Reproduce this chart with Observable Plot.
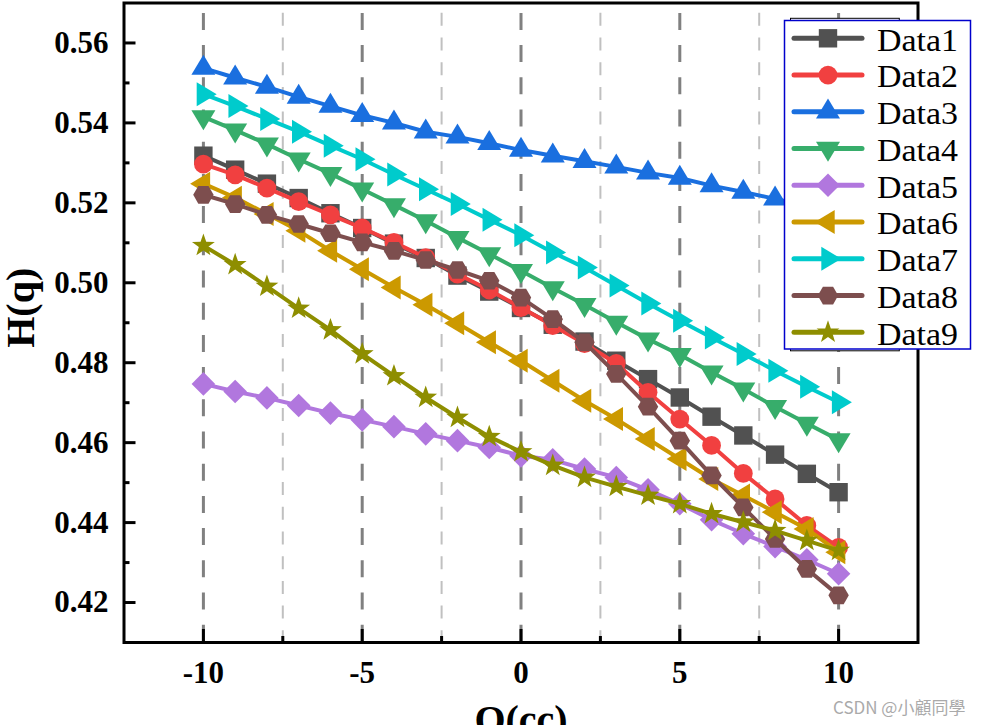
<!DOCTYPE html>
<html><head><meta charset="utf-8">
<script src="https://cdn.jsdelivr.net/npm/d3@7"></script>
<script src="https://cdn.jsdelivr.net/npm/@observablehq/plot@0.6"></script>
<style>
html,body{margin:0;padding:0;background:#fff;}
#wrap{position:relative;width:984px;height:725px;overflow:hidden;background:#fff;}
#wrap svg{display:block;}
#overlay{position:absolute;left:0;top:0;}
#wm{position:absolute;left:833px;top:694px;font-family:"Noto Sans CJK SC","Noto Sans",sans-serif;font-size:17px;color:#aaaaaa;white-space:nowrap;}
</style></head><body>
<div id="wrap"><div id="wm">CSDN @小顧同學</div></div>
<script>
const xValues = [-10,-9,-8,-7,-6,-5,-4,-3,-2,-1,0,1,2,3,4,5,6,7,8,9,10];
const seriesNames = ["Data1","Data2","Data3","Data4","Data5","Data6","Data7","Data8","Data9"];
const data1 = [0.5318,0.5283,0.5248,0.5212,0.5174,0.5137,0.5098,0.5062,0.5018,0.4978,0.4937,0.4895,0.4853,0.4805,0.4759,0.4713,0.4665,0.4618,0.4570,0.4522,0.4476];
const data2 = [0.5297,0.5270,0.5237,0.5203,0.5170,0.5137,0.5101,0.5063,0.5022,0.4982,0.4938,0.4893,0.4848,0.4798,0.4726,0.4659,0.4593,0.4523,0.4459,0.4393,0.4338];
const data3 = [0.5537,0.5513,0.5490,0.5465,0.5442,0.5419,0.5400,0.5378,0.5365,0.5349,0.5332,0.5318,0.5304,0.5290,0.5275,0.5262,0.5243,0.5227,0.5210,0.5193,0.5176];
const data4 = [0.5415,0.5382,0.5347,0.5309,0.5273,0.5234,0.5195,0.5155,0.5113,0.5072,0.5030,0.4987,0.4945,0.4901,0.4859,0.4820,0.4776,0.4734,0.4690,0.4648,0.4607];
const data5 = [0.4747,0.4728,0.4712,0.4693,0.4674,0.4657,0.4640,0.4622,0.4605,0.4588,0.4567,0.4557,0.4534,0.4513,0.4482,0.4447,0.4407,0.4372,0.4340,0.4307,0.4272];
const data6 = [0.5248,0.5213,0.5172,0.5130,0.5080,0.5034,0.4988,0.4945,0.4899,0.4851,0.4805,0.4755,0.4705,0.4659,0.4609,0.4559,0.4509,0.4468,0.4426,0.4384,0.4326];
const data7 = [0.5472,0.5442,0.5410,0.5378,0.5343,0.5309,0.5271,0.5234,0.5197,0.5158,0.5119,0.5076,0.5038,0.4993,0.4948,0.4905,0.4863,0.4822,0.4780,0.4740,0.4701];
const data8 = [0.5220,0.5197,0.5170,0.5147,0.5124,0.5101,0.5080,0.5057,0.5032,0.5005,0.4963,0.4909,0.4851,0.4772,0.4690,0.4605,0.4518,0.4438,0.4359,0.4284,0.4218];
const data9 = [0.5093,0.5045,0.4991,0.4936,0.4882,0.4822,0.4767,0.4713,0.4663,0.4615,0.4577,0.4543,0.4513,0.4490,0.4468,0.4447,0.4422,0.4401,0.4380,0.4355,0.4330];
const seriesColors = ["#515151","#F14040","#1A6FDF","#37AD6B","#B177DE","#CC9900","#00CBCC","#7D4E4E","#8E8E00"];
const xMajorTicks = [-10,-5,0,5,10];
const xMinorTicks = [-7.5,-2.5,2.5,7.5];
const yMajorTicks = [0.42,0.44,0.46,0.48,0.50,0.52,0.54,0.56];
const yMinorTicks = [0.43,0.45,0.47,0.49,0.51,0.53,0.55];

const allData = [data1,data2,data3,data4,data5,data6,data7,data8,data9];

// marker shapes (units of 10px)
function poly(ctx, pts, k){ ctx.moveTo(pts[0][0]*k, pts[0][1]*k); for (let i=1;i<pts.length;i++) ctx.lineTo(pts[i][0]*k, pts[i][1]*k); ctx.closePath(); }
const shapeFns = [
  (c,k)=>poly(c,[[-9.2,-9.2],[9.2,-9.2],[9.2,9.2],[-9.2,9.2]],k),
  (c,k)=>{c.moveTo(9.4*k,0); c.arc(0,0,9.4*k,0,2*Math.PI);},
  (c,k)=>poly(c,[[0,-13.3],[12,6.7],[-12,6.7]],k),
  (c,k)=>poly(c,[[0,13.3],[12,-6.7],[-12,-6.7]],k),
  (c,k)=>poly(c,[[0,-11.8],[11.8,0],[0,11.8],[-11.8,0]],k),
  (c,k)=>poly(c,[[-13.3,0],[6.7,-12],[6.7,12]],k),
  (c,k)=>poly(c,[[13.3,0],[-6.7,-12],[-6.7,12]],k),
  (c,k)=>{const p=[];for(let i=0;i<6;i++){const a=i*Math.PI/3;p.push([10.2*Math.cos(a),10.2*Math.sin(a)]);} poly(c,p,k);},
  (c,k)=>{const p=[];for(let i=0;i<10;i++){const a=-Math.PI/2+i*Math.PI/5;const r=i%2?4.8:12;p.push([r*Math.cos(a),r*Math.sin(a)]);} poly(c,p,k);}
];
const symbols = shapeFns.map(fn => ({draw(ctx,size){ const k = Math.sqrt(size/Math.PI)/10; fn(ctx,k); }}));

const font = "Liberation Serif, Times New Roman, serif";
const marks = [
  Plot.gridX({ticks: xMinorTicks, stroke: "#c0c0c0", strokeOpacity: 1, strokeWidth: 2, strokeDasharray: "13,11.7", strokeDashoffset: 14.4}),
  Plot.gridX({ticks: xMajorTicks, stroke: "#808080", strokeOpacity: 1, strokeWidth: 3, strokeDasharray: "17,15.2", strokeDashoffset: 21.8})
];
allData.forEach((vals, s) => {
  const table = xValues.map((x, i) => ({x, y: vals[i]}));
  marks.push(Plot.line(table, {x: "x", y: "y", stroke: seriesColors[s], strokeWidth: 4, strokeLinejoin: "round"}));
  marks.push(Plot.dot(table, {x: "x", y: "y", symbol: symbols[s], r: 10, fill: seriesColors[s], stroke: "none"}));
});
marks.push(
  Plot.frame({stroke: "black", strokeWidth: 3}),
  Plot.axisX({ticks: xMajorTicks, tickSize: -13, tickPadding: 31, strokeWidth: 3, label: null, fontSize: 31, fontWeight: "bold", fontFamily: font, tickFormat: d => String(d)}),
  Plot.axisX({ticks: xMinorTicks, tickSize: -6, strokeWidth: 3, label: null, fill: "none"}),
  Plot.axisY({ticks: yMajorTicks, tickSize: -12, tickPadding: 27.5, strokeWidth: 3, label: null, fontSize: 31, fontWeight: "bold", fontFamily: font, tickFormat: d3.format(".2f")}),
  Plot.axisY({ticks: yMinorTicks, tickSize: -6, strokeWidth: 3, label: null, fill: "none"}),
  Plot.text(["H(q)"], {text: d => d, frameAnchor: "left", rotate: -90, lineAnchor: "top", dx: -118, dy: 25, fontSize: 40, fontWeight: "bold", fontFamily: font, fill: "black"}),
  Plot.text(["Q(cc)"], {text: d => d, frameAnchor: "bottom", lineAnchor: "top", dy: 62, fontSize: 40, fontWeight: "bold", fontFamily: font, fill: "black"})
);

const chart = Plot.plot({
  width: 984, height: 725,
  marginLeft: 123.5, marginRight: 66.5, marginTop: 2.5, marginBottom: 83,
  x: {domain: [-12.5, 12.5]},
  y: {domain: [0.41, 0.57]},
  style: {fontFamily: font, fontSize: "31px", fontWeight: "bold", background: "white", color: "black", overflow: "visible"},
  marks
});
const wrap = document.getElementById("wrap");
wrap.insertBefore(chart, wrap.firstChild);

// legend overlay
const svg = d3.select(wrap).append("svg").attr("id","overlay").attr("width",984).attr("height",725);
svg.append("rect").attr("x",790.5).attr("y",18.3).attr("width",108.8).attr("height",332.5).attr("fill","white").attr("stroke","black").attr("stroke-width",1);
svg.append("rect").attr("x",784.5).attr("y",20.5).attr("width",186).attr("height",328.5).attr("fill","white").attr("stroke","#0000CC").attr("stroke-width",1.5);
seriesNames.forEach((name, i) => {
  const cy = 38.3 + i * 36.75;
  const g = svg.append("g");
  g.append("line").attr("x1",794).attr("x2",862).attr("y1",cy).attr("y2",cy).attr("stroke",seriesColors[i]).attr("stroke-width",5).attr("stroke-linecap","round");
  const p = d3.path(); shapeFns[i](p, 1);
  g.append("path").attr("d", p.toString()).attr("transform",`translate(828,${cy})`).attr("fill",seriesColors[i]);
  g.append("text").attr("x",877).attr("y",cy+12.4).attr("font-family",font).attr("font-size",32).attr("textLength",81).attr("lengthAdjust","spacingAndGlyphs").attr("fill","black").text(name);
});
</script>
</body></html>
